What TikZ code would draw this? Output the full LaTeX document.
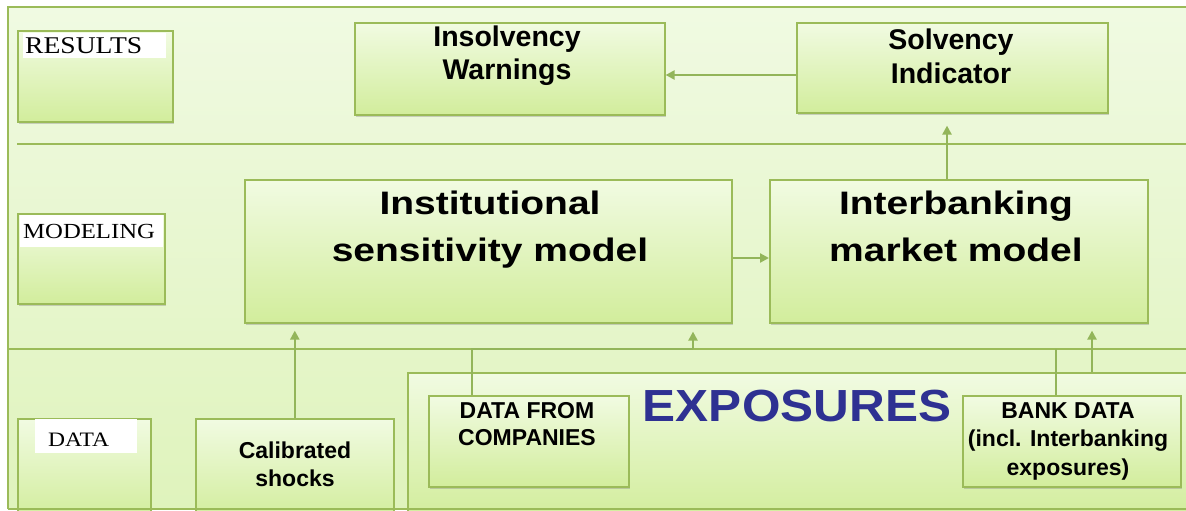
\documentclass[tikz,border=0pt]{standalone}
\usepackage{fontspec}
\setmainfont{Liberation Sans}
\newfontfamily\widefont[FakeStretch=1.2]{Liberation Sans}
\newfontfamily\expfont[FakeStretch=1.1]{Liberation Sans}
\newfontfamily\lblfont[FakeStretch=1.15]{Liberation Serif}
\usetikzlibrary{shadows,arrows.meta}
\definecolor{border}{HTML}{9BBB59}
\definecolor{boxtop}{HTML}{F1FBE2}
\definecolor{boxbot}{HTML}{D2ED9C}
\definecolor{paneltop}{HTML}{F0FAE2}
\definecolor{panelbot}{HTML}{DFF3BC}
\definecolor{arrowc}{HTML}{93B55A}
\definecolor{expblue}{HTML}{2E3192}
\begin{document}
\begin{tikzpicture}[x=1pt,y=-1pt,
  box/.style={draw=border, line width=1.6pt, top color=boxtop, bottom color=boxbot,
    drop shadow={shadow xshift=0.8pt, shadow yshift=-2.2pt, opacity=0.35},
    inner sep=0pt, anchor=north west},
  flatbox/.style={draw=border, line width=1.6pt, top color=boxtop, bottom color=boxbot,
    inner sep=0pt, anchor=north west},
  txt/.style={anchor=north, align=center, inner sep=0pt},
  lbl/.style={anchor=base west, inner sep=0pt},
  band/.style={draw=border, line width=1.8pt},
  conn/.style={draw=arrowc, line width=2.2pt},
  arr/.style={conn, -{Triangle[length=9pt,width=9pt]}}
]
\useasboundingbox (0,0) rectangle (1186,511);
\clip (0,0) rectangle (1186,511);
\fill[white] (0,0) rectangle (1186,511);
% outer panel
\path[top color=paneltop, bottom color=panelbot] (8,7) rectangle (1200,509);
\draw[band] (17,144) -- (1186,144);
\draw[band] (8,349) -- (1186,349);

% result band
\node[box, minimum width=155pt, minimum height=91pt] (reslbl) at (17,30) {};
\fill[white] (23,33) rectangle (166,58);
\node[lbl, font=\lblfont\fontsize{24}{26}\selectfont] (restxt) at (25,54) {RESULTS};
\node[box, minimum width=310pt, minimum height=92pt] (insol) at (354,22) {};
\node[box, minimum width=311pt, minimum height=90pt] (solv) at (796,22) {};
\node[txt, font=\fontsize{28.5}{33}\selectfont\bfseries] (tinsol) at (507,26) {Insolvency\\Warnings};
\node[txt, font=\fontsize{28.5}{34}\selectfont\bfseries] (tsolv) at (951,29) {Solvency\\Indicator};

% modeling band
\node[box, minimum width=147pt, minimum height=90pt] (modlbl) at (17,213) {};
\fill[white] (20,215) rectangle (163,247);
\node[lbl, font=\lblfont\fontsize{21.5}{24}\selectfont] (modtxt) at (23,238) {MODELING};
\node[box, minimum width=487pt, minimum height=143pt] (ism) at (244,179) {};
\node[box, minimum width=378pt, minimum height=143pt] (ibm) at (769,179) {};
\node[txt, font=\widefont\fontsize{32.5}{47}\selectfont\bfseries] (tism) at (490,191) {Institutional\\sensitivity model};
\node[txt, font=\widefont\fontsize{32.5}{47}\selectfont\bfseries] (tibm) at (956,191) {Interbanking\\market model};

% data band
\node[box, minimum width=133pt, minimum height=100pt] (datalbl) at (17,418) {};
\fill[white] (35,419) rectangle (137,453);
\node[lbl, font=\lblfont\fontsize{20.5}{24}\selectfont] (datatxt) at (48,446) {DATA};
\node[box, minimum width=198pt, minimum height=100pt] (cal) at (195,418) {};
\node[txt, font=\fontsize{23}{28}\selectfont\bfseries] (tcal) at (295,442) {Calibrated\\shocks};
\node[flatbox, minimum width=800pt, minimum height=145pt] (exp) at (407,372) {};
\node[txt, font=\expfont\fontsize{45}{48}\selectfont\bfseries, text=expblue] (texp) at (797,390) {EXPOSURES};
\node[box, minimum width=200pt, minimum height=91pt] (dfc) at (428,395) {};
\node[txt, font=\fontsize{23}{27}\selectfont\bfseries] (tdfc) at (527,402) {DATA FROM\\COMPANIES};
\node[box, minimum width=218pt, minimum height=91pt] (bank) at (962,395) {};
\node[txt, font=\fontsize{23}{28.5}\selectfont\bfseries] (tbank) at (1068,402) {BANK DATA\\(incl. Interbanking\\exposures)};

% frame outline on top
\draw[border, line width=1.6pt] (8,509) -- (8,7) -- (1200,7);
\draw[border, line width=1.6pt] (8,509) -- (1200,509);

% connectors
\coordinate (a1) at (0,75);
\coordinate (a2) at (0,258);
\coordinate (a3) at (947,0);
\coordinate (j1) at (472,349);
\coordinate (j2) at (693,349);
\coordinate (j3) at (1056,349);
\coordinate (a4) at (1092,0);
\draw[arr] (solv.west |- a1) -- (insol.east |- a1);
\draw[arr] (ism.east |- a2) -- (ibm.west |- a2);
\draw[arr, shorten >=12pt] (ibm.north -| a3) -- (solv.south -| a3);
\draw[arr, shorten >=7pt] (cal.north) -- (cal.north |- ism.south);
\draw[conn] (dfc.north -| j1) -- (j1) -- (j2);
\draw[arr, shorten >=8pt] (j2) -- (ism.south -| j2);
\draw[conn] (bank.north -| j3) -- (j3);
\draw[arr, shorten >=7pt] (exp.north -| a4) -- (ibm.south -| a4);
\end{tikzpicture}
\end{document}
